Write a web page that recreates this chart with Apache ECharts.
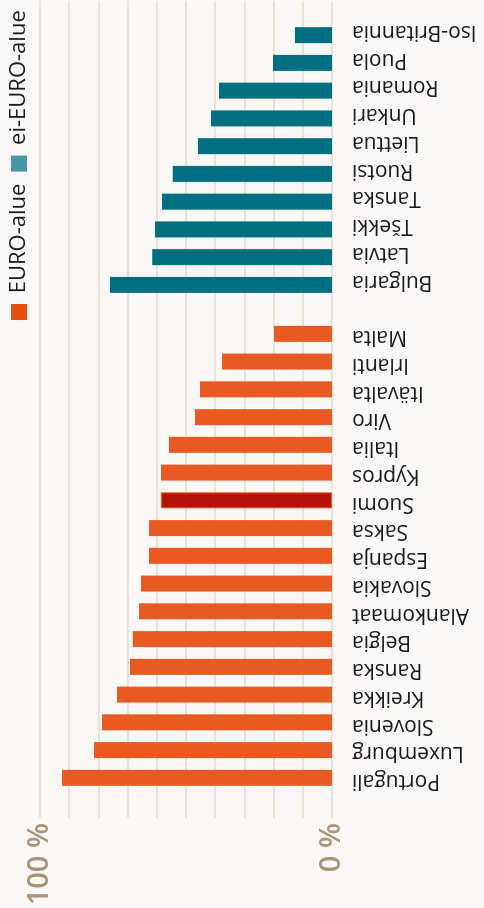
<!DOCTYPE html>
<html>
<head>
<meta charset="utf-8">
<script src="https://cdn.jsdelivr.net/npm/echarts@6/dist/echarts.min.js"></script>
<style>
  html, body { margin: 0; padding: 0; background: #f9f8f6; overflow: hidden; }
  #chart {
    position: absolute; left: 0; top: 0;
    width: 908px; height: 484px;
    transform-origin: 0 0;
    transform: translateY(908px) rotate(-90deg);
  }
</style>
</head>
<body>
<div id="chart"></div>
<script>
const euroCountries = ["Portugali", "Luxemburg", "Slovenia", "Kreikka", "Ranska", "Belgia", "Alankomaat", "Slovakia", "Espanja", "Saksa", "Suomi", "Kypros", "Italia", "Viro", "Itävalta", "Irlanti", "Malta"];
const euroValues = [92.5, 81.5, 78.8, 73.6, 69.2, 68.2, 66.1, 65.4, 62.7, 62.7, 58.6, 58.6, 55.8, 46.9, 45.2, 37.7, 19.9];
const nonEuroCountries = ["Bulgaria", "Latvia", "Tšekki", "Tanska", "Ruotsi", "Liettua", "Unkari", "Romania", "Puola", "Iso-Britannia"];
const nonEuroValues = [76.0, 61.6, 60.6, 58.2, 54.5, 45.9, 41.4, 38.7, 20.2, 12.7];
const highlight = "Suomi";

const categories = euroCountries.concat([""], nonEuroCountries);
const euroData = categories.map(name => {
  let i = euroCountries.indexOf(name);
  if (i < 0 || name === "") return null;
  if (name === highlight) {
    return { value: euroValues[i], itemStyle: { color: "#b5120a", borderColor: "#e85a22", borderWidth: 1 } };
  }
  return euroValues[i];
});
const nonEuroData = categories.map(name => {
  let i = nonEuroCountries.indexOf(name);
  return i < 0 || name === "" ? null : nonEuroValues[i];
});

let myChart = echarts.init(document.getElementById("chart"));
let option = {
  backgroundColor: "#f9f8f6",
  animation: false,
  legend: {
    left: 583,
    top: 3,
    width: 700,
    itemWidth: 16,
    itemHeight: 16,
    itemGap: 12,
    icon: "rect",
    formatter: name => " " + name,
    textStyle: { fontFamily: "Open Sans", fontSize: 22, color: "#1a1a1a" },
    data: [
      { name: "EURO-alue", itemStyle: { color: "#e84e10" } },
      { name: "ei-EURO-alue", itemStyle: { color: "#4a95a3" } }
    ]
  },
  grid: [
    { left: 113, right: 18, top: 40, bottom: 152, outerBoundsMode: "none" },
    { left: 90, right: 1, top: 40, bottom: 152, outerBoundsMode: "none" }
  ],
  xAxis: [
    {
      type: "category",
      gridIndex: 0,
      data: categories,
      axisLine: { show: false },
      axisTick: { show: false },
      axisLabel: { rotate: 90, margin: 20, interval: 0, fontFamily: "Open Sans", fontSize: 21, color: "#1a1a1a" }
    },
    { type: "value", gridIndex: 1, show: false, min: 0, max: 1 }
  ],
  yAxis: [
    { type: "value", gridIndex: 0, min: 0, max: 100, show: false },
    {
      type: "value",
      gridIndex: 1,
      min: 0,
      max: 100,
      interval: 10,
      axisLine: { show: false },
      axisTick: { show: false },
      splitLine: { lineStyle: { color: "#ebe2d6", width: 2 } },
      axisLabel: {
        margin: 5,
        fontFamily: "Open Sans",
        fontWeight: 600,
        fontSize: 29,
        color: "#a89478",
        formatter: v => (v === 0 || v === 100 ? v + " %" : "")
      }
    }
  ],
  series: [
    {
      name: "ei-EURO-alue",
      type: "bar",
      xAxisIndex: 0,
      yAxisIndex: 0,
      barWidth: 16,
      barGap: "-59%",
      itemStyle: { color: "#007080" },
      data: nonEuroData
    },
    {
      name: "EURO-alue",
      type: "bar",
      xAxisIndex: 0,
      yAxisIndex: 0,
      barWidth: 16,
      barGap: "-59%",
      itemStyle: { color: "#e85a22" },
      data: euroData
    }
  ]
};
option && myChart.setOption(option);
</script>
</body>
</html>
